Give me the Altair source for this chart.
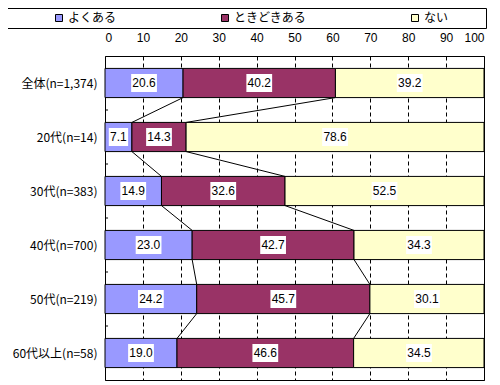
import altair as alt
import pandas as pd

categories = ["全体(n=1,374)", "20代(n=14)", "30代(n=383)",
              "40代(n=700)", "50代(n=219)", "60代以上(n=58)"]
series = ["よくある", "ときどきある", "ない"]
often = [20.6, 7.1, 14.9, 23.0, 24.2, 19.0]
sometimes = [40.2, 14.3, 32.6, 42.7, 45.7, 46.6]
never = [39.2, 78.6, 52.5, 34.3, 30.1, 34.5]
colors = ["#9999FF", "#993366", "#FFFFCC"]
x_ticks = list(range(0, 101, 10))

HALF_BAR = 0.27
HALF_BOX = 0.167

values = [often, sometimes, never]
rows = []
cums = []
for i, cat in enumerate(categories):
    start = 0.0
    c = []
    for s, name in enumerate(series):
        v = values[s][i]
        rows.append({"i": i, "cat": cat, "series": name, "order": s,
                     "start": start, "end": start + v, "label": f"{v:.1f}"})
        start += v
        c.append(start)
    cums.append(c)
df = pd.DataFrame(rows)

links = []
for i in range(len(categories) - 1):
    for k in range(2):
        links.append({"i": i, "xa": cums[i][k], "xb": cums[i + 1][k]})
ldf = pd.DataFrame(links)

bdf = pd.DataFrame({"b": list(range(1, len(categories)))})

label_arr = "[" + ",".join("'" + c + "'" for c in categories) + "]"

xscale = alt.Scale(domain=[0, 100], clamp=True, nice=False)
yscale = alt.Scale(domain=[0, len(categories)], reverse=True, nice=False)

xaxis = alt.Axis(orient="top", values=x_ticks, ticks=False, domain=False,
                 grid=True, gridColor="black", gridDash=[4, 3], gridOpacity=1,
                 labelOverlap=False, labelPadding=12, labelFont="Liberation Sans",
                 labelFontSize=12, labelColor="black", title=None)
yaxis = alt.Axis(values=[i + 0.5 for i in range(len(categories))],
                 labelExpr=f"{label_arr}[floor(datum.value)]",
                 ticks=False, domain=False, grid=False, labelPadding=8,
                 labelFont="Noto Sans CJK JP", labelFontSize=12,
                 labelColor="black", title=None)


def X(f):
    return alt.X(f, scale=xscale, axis=xaxis)


def Y(f):
    return alt.Y(f, scale=yscale, axis=yaxis)


base = alt.Chart(df).transform_calculate(
    y0=f"datum.i + 0.5 - {HALF_BAR}", y1=f"datum.i + 0.5 + {HALF_BAR}",
    mid="(datum.start + datum.end) / 2",
    bx0="(datum.start + datum.end) / 2 - length(datum.label) * 0.85",
    bx1="(datum.start + datum.end) / 2 + length(datum.label) * 0.85",
    by0=f"datum.i + 0.5 - {HALF_BOX}", by1=f"datum.i + 0.5 + {HALF_BOX}",
    yc="datum.i + 0.5",
)

bars = base.mark_bar(stroke="black", strokeWidth=1).encode(
    x=X("start:Q"),
    x2="end:Q",
    y=Y("y0:Q"),
    y2="y1:Q",
    color=alt.Color("series:N", scale=alt.Scale(domain=series, range=colors),
                    legend=alt.Legend(orient="none", legendX=-99, legendY=-48,
                                      direction="horizontal", title="\u3000",
                                      titleOrient="right", titlePadding=34,
                                      titleFontSize=12,
                                      symbolType="square", symbolSize=49,
                                      symbolStrokeColor="black", symbolStrokeWidth=1,
                                      symbolOffset=43, columnPadding=59, labelOffset=3,
                                      labelFont="Noto Sans CJK JP", labelFontSize=12,
                                      labelColor="black", strokeColor="black",
                                      padding=4, fillColor="white")),
    order="order:Q",
)

boxes = base.mark_rect(fill="white").encode(
    x=X("bx0:Q"), x2="bx1:Q", y=Y("by0:Q"), y2="by1:Q",
)

texts = base.mark_text(font="Liberation Sans", fontSize=12, color="black",
                       baseline="middle", align="center").encode(
    x=X("mid:Q"), y=Y("yc:Q"), text="label:N",
)

lines = alt.Chart(ldf).transform_calculate(
    ya=f"datum.i + 0.5 + {HALF_BAR}", yb=f"datum.i + 1.5 - {HALF_BAR}",
).mark_rule(color="black", strokeWidth=1).encode(
    x=X("xa:Q"), x2="xb:Q", y=Y("ya:Q"), y2="yb:Q",
)

btick = alt.Chart(bdf).transform_calculate(x0="0", x1="0.8").mark_rule(
    color="black", strokeWidth=1).encode(
    x=X("x0:Q"), x2="x1:Q", y=Y("b:Q"),
)

chart = alt.layer(bars, lines, btick, boxes, texts).properties(
    width=379, height=324,
    autosize=alt.AutoSizeParams(type="none"),
    padding={"left": 97, "top": 48, "right": 8, "bottom": 5},
    background="white",
).configure_view(stroke="black", strokeWidth=1, fill="white")

chart.save("out.html", embed_options={"renderer": "svg", "actions": False})
